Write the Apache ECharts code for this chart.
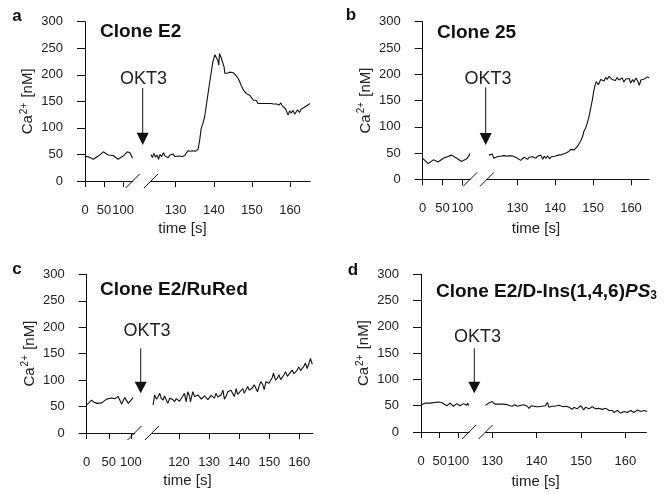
<!DOCTYPE html>
<html>
<head>
<meta charset="utf-8">
<script src="https://cdn.jsdelivr.net/npm/echarts@6/dist/echarts.min.js"></script>
<style>
  html, body { margin: 0; padding: 0; background: #fff; }
  #main { width: 665px; height: 494px; }
</style>
</head>
<body>
<div id="main"></div>
<script>
// --- data: [time s, Ca2+ nM] ---
var aLeft = [[0,47],[10,45],[22,41],[35,47],[48,55],[61,49],[74,48],[87,41],[100,47],[111,55],[118,53],[123,52],[125,43]];
var aRight = [[123.5,50],[123.9,44],[124.3,52],[124.7,45],[125.1,49],[125.5,41],[125.9,50],[126.3,46],[126.8,53],[127.2,47],[127.6,50],[128,44],[128.5,49],[128.9,47],[129.3,51],[129.8,46],[130.3,49],[130.8,47],[131.3,49],[131.8,46],[132.4,48],[132.9,47],[133.2,57],[133.8,56],[134.5,57],[135.2,56],[135.9,60],
  [136.3,77],[136.7,99],[137.2,110],[137.6,121],[138.1,145],[138.5,165],[138.9,185],[139.3,203],[139.7,222],[140,231],[140.3,238],[140.5,240],[140.8,237],[141.1,226],[141.3,218],[141.5,240],[141.9,233],[142.4,231],[142.7,215],[142.9,203],[143.5,203],[144.2,205],[144.7,208],[145.1,204],[145.5,201],[145.9,198],[146.4,193],[146.8,187],[147.2,180],[147.5,182],[147.8,171],[148.1,171],[148.5,165],[149,162],[149.5,161],[150,156],[150.4,152],[150.7,149],[151.1,152],[151.6,146],[152.1,149],[152.5,146],[153,148],[153.6,146],[154.2,146],[155,146],[155.7,145],[156.5,145],[157.1,143],[157.6,147],[158,141],[158.3,140],[158.8,136],[159.2,134],[159.5,124],[159.9,132],[160.3,128],[160.8,133],[161.2,126],[161.6,130],[162,134],[162.5,129],[162.9,135],[163.4,132],[163.8,139],[164.2,141],[164.7,143],[165.2,146]];

var bLeft = [[0,40],[5,38],[14,30],[27,37],[39,33],[52,40],[73,46],[86,40],[98,34],[111,39],[117,45],[119,49]];
var bRight = [[122.5,46],[123,44],[123.4,48],[123.8,40],[124.3,37],[124.7,43],[125,46],[125.5,44],[126,47],[126.5,45],[127,46],[127.4,44],[128,45],[128.5,43],[129,44],[129.5,42],[130,40],[130.5,43],[130.9,36],[131.3,37],[131.8,42],[132.2,45],[132.7,38],[133.1,42],[133.6,39],[134,43],[134.4,46],[134.9,40],[135.3,44],[135.8,41],[136.2,46],[136.7,38],[137.1,44],[137.6,40],[138,45],[138.5,39],[139,43],[139.4,41],[139.9,44],[140.3,41],[140.8,46],[141.3,44],[141.8,47],[142.3,46],[142.8,50],[143.2,49],[143.6,53],[144.1,57],[144.5,59],[145,56],[145.5,60],[146,64],[146.3,68],[146.8,74],[147.2,81],[147.6,92],[148,97],[148.5,108],[148.9,119],[149.3,133],[149.8,151],[150.1,165],[150.4,176],[150.8,186],[151.1,189],[151.4,180],[151.6,183],[152,190],[152.4,192],[152.9,187],[153.3,194],[153.7,190],[154.2,196],[154.6,195],[155,190],[155.4,193],[155.9,188],[156.3,194],[156.8,189],[157.3,186],[157.7,193],[158.1,185],[158.6,191],[159,188],[159.5,192],[159.9,183],[160.4,190],[160.8,185],[161.3,193],[161.7,188],[162.2,179],[162.6,189],[163.1,186],[163.5,191],[164,188],[164.3,195],[164.8,193]];

var cLeft = [[0,53],[5,57],[11,62],[17,58],[23,56],[34,57],[45,64],[56,66],[64,65],[71,69],[79,55],[86,67],[94,56],[100,62],[105,67]];
var cRight = [[111.4,53],[111.9,72],[112.5,64],[113,68],[113.6,75],[114.1,66],[114.7,62],[115.2,70],[115.8,69],[116.3,56],[116.9,66],[117.4,66],[118,63],[118.5,59],[119.1,65],[119.6,66],[120.2,60],[120.7,62],[121.3,70],[121.8,75],[122.4,59],[122.9,78],[123.5,70],[123.8,59],[124.6,78],[125.2,69],[125.7,66],[126.3,72],[126.8,69],[127.4,64],[127.9,62],[128.5,70],[129,69],[129.6,63],[130.1,66],[130.7,71],[131.2,69],[131.8,66],[132.3,75],[132.9,68],[133.4,66],[134,72],[134.6,81],[135.1,64],[135.7,70],[136.2,78],[136.8,76],[137.3,81],[137.9,74],[138.4,69],[139,84],[139.5,73],[140.1,72],[140.6,80],[141.2,84],[141.7,75],[142.3,82],[142.8,88],[143.4,81],[143.9,78],[144.5,86],[145,91],[145.6,84],[146.1,78],[146.7,90],[147.2,97],[147.8,92],[148.3,82],[148.9,97],[149.4,100],[149.9,94],[150.5,91],[151,105],[151.4,113],[152.1,100],[152.7,104],[153.2,110],[153.8,101],[154.3,100],[154.9,110],[155.4,116],[156,107],[156.5,106],[157.1,115],[157.6,119],[158.2,112],[158.7,110],[159.3,119],[159.8,125],[160.4,118],[160.9,116],[161.5,126],[162,132],[162.6,122],[163.1,130],[163.7,141],[164,135],[164.3,130]];

var dLeft = [[0,51],[5,54],[11,55],[25,55],[46,57],[55,56],[60,54],[69,50],[78,55],[87,49],[96,54],[105,50],[114,54],[122,51],[126,55],[127,50]];
var dRight = [[128.5,51],[128.9,53],[129.2,55],[129.6,53],[130,58],[130.4,54],[130.9,53],[131.5,53],[132.3,53],[133.4,52],[134,50],[134.5,49],[135,52],[135.3,54],[135.7,49],[136,47],[136.5,51],[137.1,52],[137.5,55],[137.9,49],[138.3,45],[138.8,50],[139.4,49],[139.9,48],[140.5,48],[141.2,49],[142,50],[142.4,56],[142.8,47],[143.4,49],[143.9,49],[144.5,50],[145,51],[145.6,49],[146.1,48],[146.7,49],[147.3,47],[148,43],[148.4,47],[148.8,49],[149.1,44],[149.5,46],[149.9,50],[150.3,46],[150.6,42],[151,47],[151.4,47],[151.8,44],[152.1,45],[152.5,48],[152.9,48],[153.3,44],[153.6,41],[154,45],[154.4,45],[154.8,43],[155.2,42],[155.6,45],[155.9,45],[156.3,41],[156.7,39],[157.1,41],[157.4,37],[157.8,40],[158.2,41],[158.6,38],[158.9,36],[159.3,39],[159.7,39],[160,37],[160.4,37],[160.8,40],[161.2,41],[161.5,38],[161.9,37],[162.3,40],[162.7,42],[163,39],[163.4,39],[163.8,41],[164.2,41],[164.5,38],[164.9,39]];

var leftTicks = [0, 50, 100];
var rightTicksABD = [130, 140, 150, 160];
var rightTicksC = [120, 130, 140, 150, 160];
var letters = ['a', 'b', 'c', 'd'];
var titles = ['{b|Clone E2}', '{b|Clone 25}', '{b|Clone E2/RuRed}', '{b|Clone E2/D-Ins(1,4,6)}{i|PS}{s|3}'];

// panel geometry (pixels)
var layout = [
  {yx:85, top:21.7, y0:181, lw:47.6, lmax:125, rl:150.9, rr:310.2, rmin:123.5, rmax:165.3, ax:142.7, aTop:88, hTop:132.7, hBot:145, okX:143.5, okY:79, tX:100, tY:31, lX:17, lY:16, nX:182.5, nY:229},
  {yx:422.7, top:21.7, y0:179.3, lw:47.5, lmax:120, rl:487, rr:649.2, rmin:122, rmax:164.8, ax:485.7, aTop:87.3, hTop:133, hBot:145, okX:488, okY:79, tX:437, tY:32, lX:351, lY:15, nX:536, nY:229},
  {yx:86.7, top:274.3, y0:433, lw:47.8, lmax:108, rl:151.9, rr:312.9, rmin:111, rmax:164.5, ax:140.7, aTop:348.3, hTop:381.7, hBot:393.3, okX:147, okY:331.5, tX:100, tY:289, lX:17, lY:269, nX:187.5, nY:481},
  {yx:421, top:274.3, y0:432, lw:48.1, lmax:129, rl:485.6, rr:646.3, rmin:128.5, rmax:164.7, ax:474.3, aTop:348.3, hTop:381.7, hBot:393.3, okX:477.5, okY:337.5, tX:436, tY:291, lX:353, lY:270, nX:535.6, nY:482}
];
var series_ = [[aLeft, aRight], [bLeft, bRight], [cLeft, cRight], [dLeft, dRight]];
var rightTicks = [rightTicksABD, rightTicksABD, rightTicksC, rightTicksABD];

var FONT = '"Liberation Sans", Arial, Helvetica, sans-serif';
var INK = '#111';
var TXT = '#222';

var grids = [], xAxes = [], yAxes = [], series = [], graphics = [], titleList = [];

for (var i = 0; i < 4; i++) {
  var L = layout[i];
  var h = L.y0 - L.top;
  grids.push({left: L.yx, top: L.top, width: L.lw, height: h});
  grids.push({left: L.rl, top: L.top, width: L.rr - L.rl, height: h});

  var xBase = {
    type: 'value',
    axisLine: {show: true, onZero: false, lineStyle: {color: INK, width: 1}},
    axisTick: {show: true, length: 6, lineStyle: {color: INK}},
    axisLabel: {color: TXT, fontSize: 13, fontFamily: FONT, margin: 23},
    splitLine: {show: false}
  };
  xAxes.push(echarts.util.merge({
    gridIndex: 2 * i, min: 0, max: L.lmax,
    axisTick: {customValues: leftTicks},
    axisLabel: {customValues: leftTicks}
  }, xBase));
  xAxes.push(echarts.util.merge({
    gridIndex: 2 * i + 1, min: L.rmin, max: L.rmax,
    axisTick: {customValues: rightTicks[i]},
    axisLabel: {customValues: rightTicks[i]}
  }, xBase));

  yAxes.push({
    type: 'value', gridIndex: 2 * i, min: 0, max: 300, interval: 50,
    axisLine: {show: true, lineStyle: {color: INK, width: 1}},
    axisTick: {show: true, length: 8, lineStyle: {color: INK}},
    axisLabel: {color: TXT, fontSize: 13, fontFamily: FONT, margin: 22},
    splitLine: {show: false},
    name: '{t|Ca}{s|2+}{t| [nM]}',
    nameLocation: 'middle', nameGap: 48, nameRotate: 90,
    nameTextStyle: {
      color: TXT, fontFamily: FONT,
      rich: {
        t: {fontSize: 15, fontFamily: FONT, color: TXT, lineHeight: 18},
        s: {fontSize: 10, fontFamily: FONT, color: TXT, verticalAlign: 'top', lineHeight: 18, padding: [0, 1, 6, 1]}
      }
    }
  });
  yAxes.push({type: 'value', gridIndex: 2 * i + 1, min: 0, max: 300, show: false});

  var lineStyle = {color: INK, width: 1.1};
  series.push({type: 'line', xAxisIndex: 2 * i, yAxisIndex: 2 * i, data: series_[i][0], showSymbol: false, lineStyle: lineStyle});
  series.push({type: 'line', xAxisIndex: 2 * i + 1, yAxisIndex: 2 * i + 1, data: series_[i][1], showSymbol: false, lineStyle: lineStyle});

  titleList.push({
    text: titles[i], left: L.tX, top: L.tY - 9, padding: 0,
    textStyle: {
      fontFamily: FONT, color: INK,
      rich: {
        b: {fontSize: 19, fontWeight: 'bold', fontFamily: FONT, color: INK},
        i: {fontSize: 19, fontWeight: 'bold', fontStyle: 'italic', fontFamily: FONT, color: INK},
        s: {fontSize: 12, fontWeight: 'bold', fontFamily: FONT, color: INK, verticalAlign: 'bottom', padding: [8, 0, 0, 0]}
      }
    }
  });

  // panel letter
  graphics.push({type: 'text', x: L.lX, y: L.lY, style: {text: letters[i], font: 'bold 17px ' + FONT, fill: INK, align: 'center', verticalAlign: 'middle'}});
  // x-axis name
  graphics.push({type: 'text', x: L.nX, y: L.nY, style: {text: 'time [s]', font: '15px ' + FONT, fill: TXT, align: 'center', verticalAlign: 'middle'}});
  // OKT3 arrow
  graphics.push({type: 'text', x: L.okX, y: L.okY, style: {text: 'OKT3', font: '18px ' + FONT, fill: TXT, align: 'center', verticalAlign: 'middle'}});
  graphics.push({type: 'line', shape: {x1: L.ax, y1: L.aTop, x2: L.ax, y2: L.hTop + 1}, style: {stroke: INK, lineWidth: 1}});
  graphics.push({type: 'polygon', shape: {points: [[L.ax - 6, L.hTop], [L.ax + 6, L.hTop], [L.ax, L.hBot]]}, style: {fill: INK}});
  // axis break marks
  var bx = [L.yx + L.lw, L.rl];
  for (var k = 0; k < 2; k++) {
    graphics.push({type: 'line', shape: {x1: bx[k] - 7, y1: L.y0 + 7, x2: bx[k] + 7, y2: L.y0 - 7}, style: {stroke: INK, lineWidth: 1}});
  }
}

var myChart = echarts.init(document.getElementById('main'), null, {renderer: 'canvas'});
myChart.setOption({
  animation: false,
  backgroundColor: '#fff',
  title: titleList,
  grid: grids,
  xAxis: xAxes,
  yAxis: yAxes,
  series: series,
  graphic: graphics
});
</script>
</body>
</html>
